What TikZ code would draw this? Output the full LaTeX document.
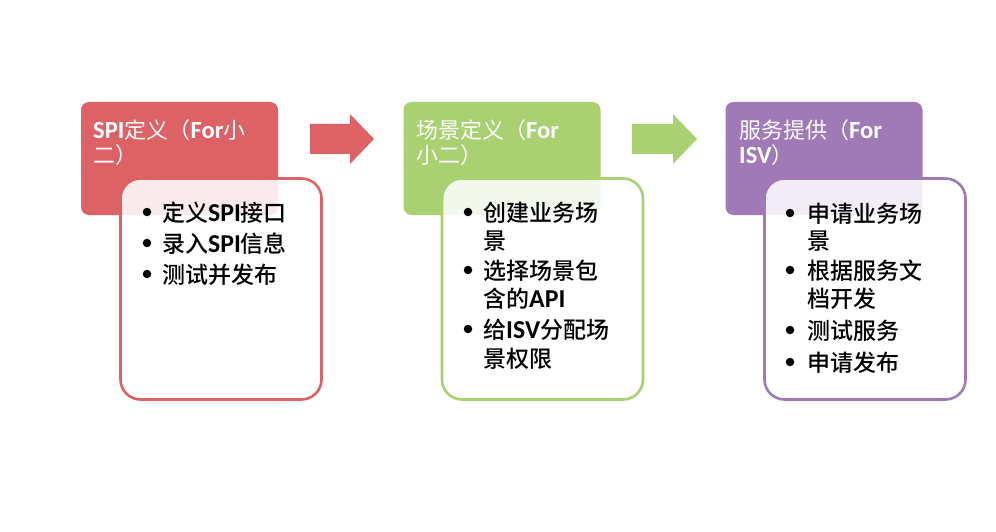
\documentclass[tikz,border=0pt]{standalone}
\usepackage{fontspec}
\setmainfont{Noto Sans CJK SC Medium}
\newfontfamily\cjkreg{Noto Sans CJK SC}
\newfontfamily\lat[Scale=1.12]{Carlito Bold}
\definecolor{cred}{RGB}{221,98,101}
\definecolor{cgreen}{RGB}{169,208,113}
\definecolor{cpurple}{RGB}{159,122,182}
\tikzset{
  headbox/.style={fill=#1, rounded corners=8pt, minimum width=197pt, minimum height=113pt, inner sep=0pt},
  bodybox/.style={draw=#1, line width=2.6pt, fill=white, fill opacity=0.87, rounded corners=20pt, minimum width=201pt, minimum height=221pt, inner sep=0pt},
  headtext/.style={anchor=base west, text=white, font=\cjkreg\fontsize{22}{26}\selectfont, inner sep=0pt},
  bodytext/.style={anchor=base west, text=black, font=\fontsize{23}{28}\selectfont, inner sep=0pt},
  bulletdot/.style={circle, fill=black, minimum size=8.5pt, inner sep=0pt},
}
\begin{document}
\begin{tikzpicture}[x=1pt,y=-1pt]
\useasboundingbox (0,0) rectangle (996,532);
% red column
\node[headbox=cred] (h1) at (179.5,158.5) {};
\node[bodybox=cred] (b1) at (221,289) {};
\node[headtext] (h1a) at (93,139) {{\lat SPI}定义（{\lat For}小};
\node[headtext] (h1b) at (93,164) {二）};
\node[bulletdot] (b1p1) at (147,212) {};
\node[bodytext] (b1t1) at (162,221) {定义{\lat SPI}接口};
\node[bulletdot] (b1p2) at (147,243) {};
\node[bodytext] (b1t2) at (162,252) {录入{\lat SPI}信息};
\node[bulletdot] (b1p3) at (147,274) {};
\node[bodytext] (b1t3) at (162,283) {测试并发布};
% green column
\node[headbox=cgreen] (h2) at (502,158.5) {};
\node[bodybox=cgreen] (b2) at (542.5,289) {};
\node[headtext] (h2a) at (416,139) {场景定义（{\lat For}};
\node[headtext] (h2b) at (416,164) {小二）};
\node[bulletdot] (b2p1) at (468,212) {};
\node[bodytext] (b2t1) at (483,221) {创建业务场};
\node[bodytext] (b2t1b) at (483,249) {景};
\node[bulletdot] (b2p2) at (468,270) {};
\node[bodytext] (b2t2) at (483,279) {选择场景包};
\node[bodytext] (b2t2b) at (483,307) {含的{\lat API}};
\node[bulletdot] (b2p3) at (468,329) {};
\node[bodytext] (b2t3) at (483,338) {给{\lat ISV}分配场};
\node[bodytext] (b2t3b) at (483,367) {景权限};
% purple column
\node[headbox=cpurple] (h3) at (824,158.5) {};
\node[bodybox=cpurple] (b3) at (865,289) {};
\node[headtext] (h3a) at (739,139) {服务提供（{\lat For}};
\node[headtext] (h3b) at (739,164) {{\lat ISV}）};
\node[bulletdot] (b3p1) at (790,213) {};
\node[bodytext] (b3t1) at (807,222) {申请业务场};
\node[bodytext] (b3t1b) at (807,249) {景};
\node[bulletdot] (b3p2) at (790,270) {};
\node[bodytext] (b3t2) at (807,279) {根据服务文};
\node[bodytext] (b3t2b) at (807,307) {档开发};
\node[bulletdot] (b3p3) at (790,330) {};
\node[bodytext] (b3t3) at (807,339) {测试服务};
\node[bulletdot] (b3p4) at (790,362) {};
\node[bodytext] (b3t4) at (807,371) {申请发布};
% arrows
\fill[cred] (310,124) -- (350,124) -- (350,114) -- (374,139) -- (350,164) -- (350,154) -- (310,154) -- cycle;
\fill[cgreen] (632,124) -- (673,124) -- (673,114) -- (697,139) -- (673,164) -- (673,154) -- (632,154) -- cycle;
\end{tikzpicture}
\end{document}
